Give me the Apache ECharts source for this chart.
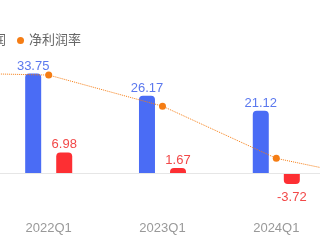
<!DOCTYPE html>
<html>
<head>
<meta charset="utf-8">
<script src="https://cdn.jsdelivr.net/npm/echarts@6/dist/echarts.min.js"></script>
<style>html,body{margin:0;padding:0;background:#fff;}#c{width:320px;height:240px;}</style>
</head>
<body>
<div id="c"></div>
<script>
var categories = ['2021Q1', '2022Q1', '2023Q1', '2024Q1', '2025Q1'];
var revenue = [null, 33.75, 26.17, 21.12, null];
var netProfit = [null, 6.98, 1.67, -3.72, null];
var netMargin = [21.8, 20.68, 6.38, -17.61, -28.5];
var seriesNames = ['营业收入', '净利润', '净利润率'];

var BLUE = '#4a6cf5', RED = '#fd2f33', ORANGE = '#f57d14';
var FONT = '"Liberation Sans", Arial, "Noto Sans CJK SC", sans-serif';

var chart = echarts.init(document.getElementById('c'), null, {renderer: 'canvas'});
chart.setOption({
  animation: false,
  textStyle: {fontFamily: FONT},
  legend: {
    data: [
      {name: seriesNames[0], icon: 'roundRect'},
      {name: seriesNames[1], icon: 'roundRect'},
      {name: seriesNames[2], icon: 'circle'}
    ],
    left: -125, top: 29,
    itemWidth: 7, itemHeight: 7, itemGap: 11,
    textStyle: {color: '#666', fontSize: 13, fontFamily: FONT}
  },
  grid: {left: -122, top: 55, width: 569, height: 147.5, containLabel: false, outerBoundsMode: 'none'},
  xAxis: {
    type: 'category', data: categories,
    axisLine: {show: false, onZero: false},
    axisTick: {show: false},
    axisLabel: {show: true, interval: 0, color: '#999', fontSize: 13, margin: 19, fontFamily: FONT},
    splitLine: {show: false}
  },
  yAxis: [
    {type: 'value', min: -10, max: 40, show: false, splitLine: {show: false}},
    {type: 'value', min: -37.9, max: 29.9, show: false, splitLine: {show: false}}
  ],
  series: [
    {
      name: seriesNames[0], type: 'bar', data: revenue,
      barWidth: 16, barGap: '94%',
      itemStyle: {color: BLUE, borderRadius: [4, 4, 0, 0]},
      label: {show: true, position: 'top', distance: 1, color: '#5b78ee', fontSize: 13, fontFamily: FONT},
      markLine: {
        silent: true, symbol: ['none', 'none'], label: {show: false},
        lineStyle: {color: '#e6e6e6', width: 1, type: 'solid'},
        emphasis: {disabled: true},
        data: [{yAxis: 0}]
      }
    },
    {
      name: seriesNames[1], type: 'bar',
      data: netProfit.map(function (v) {
        if (v !== null && v < 0) {
          return {value: v, itemStyle: {borderRadius: [0, 0, 4, 4]}, label: {position: 'bottom', distance: 7}};
        }
        return v;
      }),
      barWidth: 16,
      itemStyle: {color: RED, borderRadius: [4, 4, 0, 0]},
      label: {show: true, position: 'top', distance: 1, color: '#f24848', fontSize: 13, fontFamily: FONT}
    },
    {
      name: seriesNames[2], type: 'line', yAxisIndex: 1, data: netMargin,
      symbol: 'circle', symbolSize: 7, showAllSymbol: true,
      itemStyle: {color: ORANGE},
      lineStyle: {color: ORANGE, width: 1, type: 'dotted'},
      z: 5
    }
  ]
});
</script>
</body>
</html>
